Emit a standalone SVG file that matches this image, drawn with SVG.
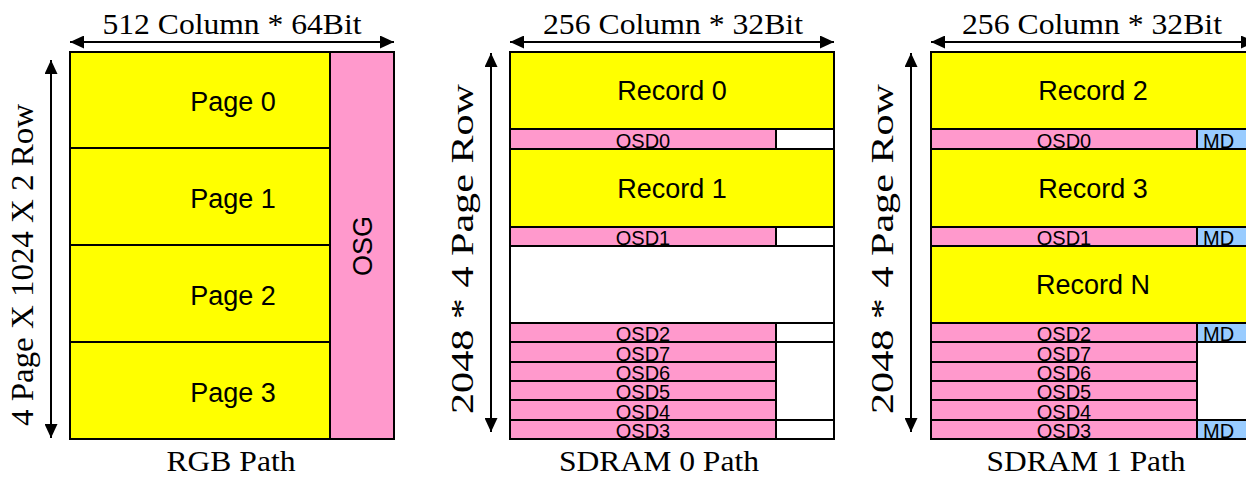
<svg xmlns="http://www.w3.org/2000/svg" width="1246" height="477" viewBox="0 0 1246 477">
<style>
.serif{font-family:"Liberation Serif","Times New Roman",serif;fill:#000}
.sans{font-family:"Liberation Sans",Arial,sans-serif;fill:#000}
.big{font-size:27px;text-anchor:middle}
.osd{font-size:20px;text-anchor:middle}
.md{font-size:20px}
.ttl{font-size:30px;text-anchor:middle}
.vert{font-size:31px;text-anchor:middle}
.box{stroke:#000;stroke-width:2}
.y{fill:#ffff00}
.p{fill:#ff99cc}
.b{fill:#99ccff}
.w{fill:#ffffff}
.arr{stroke:#000;stroke-width:2;fill:none;marker-start:url(#ah);marker-end:url(#ah)}
</style>
<defs>
<marker id="ah" viewBox="0 0 14 13" refX="14" refY="6.5" markerWidth="14" markerHeight="13" markerUnits="userSpaceOnUse" orient="auto-start-reverse">
<path d="M0,0 L14,6.5 L0,13 Z" fill="#000"/>
</marker>
</defs>
<rect width="1246" height="477" fill="#fff"/>

<g id="connectors">
<line class="arr" x1="70" y1="42" x2="394" y2="42"/>
<line class="arr" x1="51" y1="60" x2="51" y2="438"/>
<line class="arr" x1="510" y1="42" x2="834" y2="42"/>
<line class="arr" x1="491" y1="53" x2="491" y2="432"/>
<line class="arr" x1="931" y1="42" x2="1255" y2="42"/>
<line class="arr" x1="911" y1="53" x2="911" y2="432"/>
</g>

<g id="labels">
<text class="serif ttl" x="232" y="34" textLength="259" lengthAdjust="spacingAndGlyphs">512 Column * 64Bit</text>
<text class="serif ttl" x="673" y="34" textLength="260" lengthAdjust="spacingAndGlyphs">256 Column * 32Bit</text>
<text class="serif ttl" x="1092" y="34" textLength="260" lengthAdjust="spacingAndGlyphs">256 Column * 32Bit</text>
<text class="serif vert" transform="translate(33,265) rotate(-90)" textLength="322" lengthAdjust="spacingAndGlyphs">4 Page X 1024 X 2 Row</text>
<text class="serif vert" transform="translate(473,249) rotate(-90)" textLength="330" lengthAdjust="spacingAndGlyphs">2048 * 4 Page Row</text>
<text class="serif vert" transform="translate(893,249) rotate(-90)" textLength="330" lengthAdjust="spacingAndGlyphs">2048 * 4 Page Row</text>
<text class="serif ttl" x="231" y="471" textLength="129" lengthAdjust="spacingAndGlyphs">RGB Path</text>
<text class="serif ttl" x="659" y="471" textLength="200" lengthAdjust="spacingAndGlyphs">SDRAM 0 Path</text>
<text class="serif ttl" x="1086" y="471" textLength="199" lengthAdjust="spacingAndGlyphs">SDRAM 1 Path</text>
</g>

<g id="rgb-path">
<g id="page0"><rect class="box y" x="70" y="52" width="260" height="96"/><text class="sans big" x="233" y="111">Page 0</text></g>
<g id="page1"><rect class="box y" x="70" y="148" width="260" height="97"/><text class="sans big" x="233" y="208">Page 1</text></g>
<g id="page2"><rect class="box y" x="70" y="245" width="260" height="97"/><text class="sans big" x="233" y="305">Page 2</text></g>
<g id="page3"><rect class="box y" x="70" y="342" width="260" height="97"/><text class="sans big" x="233" y="402">Page 3</text></g>
<g id="osg"><rect class="box p" x="330" y="52" width="64" height="387"/><text class="sans big" transform="translate(372,246) rotate(-90)">OSG</text></g>
</g>

<g id="sdram0">
<g id="s0-record0"><rect class="box y" x="510" y="52" width="324" height="77"/><text class="sans big" x="672" y="100">Record 0</text></g>
<g id="s0-osd0"><rect class="box p" x="510" y="129" width="266" height="20"/><rect class="box w" x="776" y="129" width="58" height="20"/><text class="sans osd" x="643" y="148">OSD0</text></g>
<g id="s0-record1"><rect class="box y" x="510" y="149" width="324" height="78"/><text class="sans big" x="672" y="198">Record 1</text></g>
<g id="s0-osd1"><rect class="box p" x="510" y="227" width="266" height="19"/><rect class="box w" x="776" y="227" width="58" height="19"/><text class="sans osd" x="643" y="245">OSD1</text></g>
<g id="s0-empty"><rect class="box w" x="510" y="246" width="324" height="77"/></g>
<g id="s0-osd2"><rect class="box p" x="510" y="323" width="266" height="19"/><rect class="box w" x="776" y="323" width="58" height="19"/><text class="sans osd" x="643" y="341">OSD2</text></g>
<g id="s0-osd7"><rect class="box p" x="510" y="342" width="266" height="20"/><text class="sans osd" x="643" y="361">OSD7</text></g>
<g id="s0-osd6"><rect class="box p" x="510" y="362" width="266" height="19"/><text class="sans osd" x="643" y="380">OSD6</text></g>
<g id="s0-osd5"><rect class="box p" x="510" y="381" width="266" height="19"/><text class="sans osd" x="643" y="399">OSD5</text></g>
<g id="s0-osd4"><rect class="box p" x="510" y="400" width="266" height="20"/><text class="sans osd" x="643" y="419">OSD4</text></g>
<g id="s0-free"><rect class="box w" x="776" y="342" width="58" height="78"/></g>
<g id="s0-osd3"><rect class="box p" x="510" y="420" width="266" height="19"/><rect class="box w" x="776" y="420" width="58" height="19"/><text class="sans osd" x="643" y="438">OSD3</text></g>
</g>

<g id="sdram1">
<g id="s1-record2"><rect class="box y" x="931" y="52" width="324" height="77"/><text class="sans big" x="1093" y="100">Record 2</text></g>
<g id="s1-osd0"><rect class="box p" x="931" y="129" width="266" height="20"/><rect class="box b" x="1197" y="129" width="58" height="20"/><text class="sans osd" x="1064" y="148">OSD0</text><text class="sans md" x="1203" y="148">MD</text></g>
<g id="s1-record3"><rect class="box y" x="931" y="149" width="324" height="78"/><text class="sans big" x="1093" y="198">Record 3</text></g>
<g id="s1-osd1"><rect class="box p" x="931" y="227" width="266" height="19"/><rect class="box b" x="1197" y="227" width="58" height="19"/><text class="sans osd" x="1064" y="245">OSD1</text><text class="sans md" x="1203" y="245">MD</text></g>
<g id="s1-recordN"><rect class="box y" x="931" y="246" width="324" height="77"/><text class="sans big" x="1093" y="294">Record N</text></g>
<g id="s1-osd2"><rect class="box p" x="931" y="323" width="266" height="19"/><rect class="box b" x="1197" y="323" width="58" height="19"/><text class="sans osd" x="1064" y="341">OSD2</text><text class="sans md" x="1203" y="341">MD</text></g>
<g id="s1-osd7"><rect class="box p" x="931" y="342" width="266" height="20"/><text class="sans osd" x="1064" y="361">OSD7</text></g>
<g id="s1-osd6"><rect class="box p" x="931" y="362" width="266" height="19"/><text class="sans osd" x="1064" y="380">OSD6</text></g>
<g id="s1-osd5"><rect class="box p" x="931" y="381" width="266" height="19"/><text class="sans osd" x="1064" y="399">OSD5</text></g>
<g id="s1-osd4"><rect class="box p" x="931" y="400" width="266" height="20"/><text class="sans osd" x="1064" y="419">OSD4</text></g>
<g id="s1-free"><rect class="box w" x="1197" y="342" width="58" height="78"/></g>
<g id="s1-osd3"><rect class="box p" x="931" y="420" width="266" height="19"/><rect class="box b" x="1197" y="420" width="58" height="19"/><text class="sans osd" x="1064" y="438">OSD3</text><text class="sans md" x="1203" y="438">MD</text></g>
</g>
</svg>
